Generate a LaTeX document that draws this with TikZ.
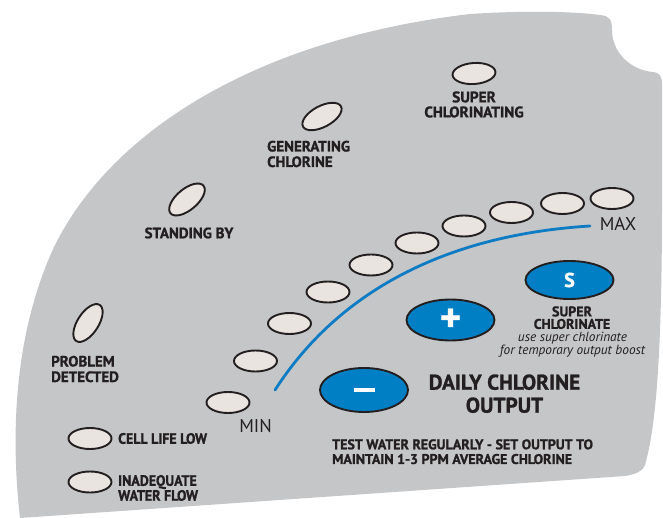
\documentclass[tikz,border=0pt]{standalone}
\usepackage{fontspec}
\setmainfont{PT Sans}[BoldFeatures={FakeBold=1.2}]
\newfontfamily\narrowfont{PT Sans}[FakeStretch=0.93, BoldFeatures={FakeBold=1.2}]
\usetikzlibrary{shapes.geometric, positioning}
\definecolor{panelc}{RGB}{197,198,200}
\definecolor{lampc}{RGB}{233,228,223}
\definecolor{inkc}{RGB}{35,31,32}
\definecolor{knobc}{RGB}{0,127,196}
\definecolor{arcc}{RGB}{14,124,196}
\tikzset{
  panel/.style={fill=panelc, draw=none},
  lamp/.style={
    ellipse, draw=inkc, line width=1.9pt, fill=lampc,
    minimum width=43pt, minimum height=21pt, inner sep=0pt
  },
  knob/.style={
    ellipse, draw=inkc, line width=1.9pt, fill=knobc,
    minimum width=88pt, minimum height=41pt, inner sep=0pt,
    text=white, font=\bfseries\fontsize{20}{20}\selectfont
  },
  statelbl/.style={font=\bfseries\fontsize{15}{15.5}\selectfont, text=inkc,
                   inner sep=0pt, align=left},
  narrowlbl/.style={font=\narrowfont\bfseries\fontsize{15}{13}\selectfont, text=inkc,
                    inner sep=0pt, align=left},
  endlbl/.style={font=\fontsize{18.5}{18.5}\selectfont, text=inkc, inner sep=0pt},
  hint/.style={font=\itshape\fontsize{13.3}{11.5}\selectfont, text=inkc,
               inner sep=0pt, align=center},
  dialarc/.style={draw=arcc, line width=2.8pt, line cap=round},
}

\begin{document}
\begin{tikzpicture}[x=1pt, y=-1pt]
  \useasboundingbox (0,0) rectangle (663,518);

  % the grey face plate
  \fill[panel] (20,518) .. controls (10,430) and (15,330) .. (55,245)
    .. controls (110,135) and (250,40) .. (470,14)
    .. controls (530,10) and (580,12) .. (600,15)
    .. controls (610,16) and (612,20) .. (612,30)
    .. controls (612,52) and (630,70) .. (653,72)
    .. controls (660,73) and (662,76) .. (662,85)
    -- (662,200) .. controls (662,330) and (658,420) .. (645,465)
    .. controls (642,472) and (636,474) .. (625,476)
    -- cycle;

  % status lamps
  \node[lamp, rotate=57] (problem) at (88,323) {};
  \node[lamp, rotate=40] (standby) at (187,199.5) {};
  \node[lamp, rotate=28] (generating) at (322,116.5) {};
  \node[lamp, rotate=4] (superon) at (474,73.5) {};
  \node[lamp] (celllife) at (90,438.5) {};
  \node[lamp] (waterflow) at (90,482) {};

  \node[statelbl, align=left, anchor=west] (problemlbl) at (51,369) {PROBLEM\\DETECTED};
  \node[statelbl] (standbylbl) at (189,233) {STANDING BY};
  \node[statelbl, anchor=west] (generatinglbl) at (267,154) {GENERATING\\CHLORINE};
  \node[statelbl, align=center, font=\bfseries\fontsize{15.3}{15}\selectfont] (superonlbl) at (474,104.5)
    {SUPER\\CHLORINATING};
  \node[narrowlbl, anchor=west] (celllifelbl) at (118,438.5) {CELL LIFE LOW};
  \node[narrowlbl, anchor=west] (waterflowlbl) at (118,488) {INADEQUATE\\WATER FLOW};

  % output level dial
  \node[lamp] (dial1) at (228,402.5) {};
  \node[lamp] (dial2) at (255.5,361) {};
  \node[lamp] (dial3) at (289.5,323.5) {};
  \node[lamp] (dial4) at (328,292) {};
  \node[lamp] (dial5) at (371,265) {};
  \node[lamp] (dial6) at (417,243) {};
  \node[lamp] (dial7) at (464,226) {};
  \node[lamp] (dial8) at (511.5,212.5) {};
  \node[lamp] (dial9) at (562.5,203.5) {};
  \node[lamp] (dial10) at (612,198.5) {};

  \coordinate (arcmin) at (275,390);
  \coordinate (arcmax) at (590,226);
  \draw[dialarc] (arcmin) .. controls (338,292) and (445,235) .. (arcmax);

  \node[endlbl] (minlbl) at (255.5,426) {MIN};
  \node[endlbl] (maxlbl) at (618,223.5) {MAX};

  % push buttons
  \node[knob, minimum height=38pt] (superbtn) at (569.5,280) {S};
  \node[knob, font=\bfseries\fontsize{40}{40}\selectfont] (plusbtn) at (450.5,320) {+};
  \node[knob, minimum height=44pt] (minusbtn) at (364,390) {\rule{21pt}{3.6pt}};

  \node[statelbl, align=center, font=\bfseries\fontsize{14}{12.5}\selectfont] (superbtnlbl)
    at (572,317.7) {SUPER\\CHLORINATE};
  \node[hint] (superhint) at (572.5,344.3)
    {use super chlorinate\\for temporary output boost};
  \node[statelbl, align=center, font=\bfseries\fontsize{21.3}{23}\selectfont] (dailylbl)
    at (504.5,393.7) {DAILY CHLORINE\\OUTPUT};
  \node[statelbl, anchor=west, font=\bfseries\fontsize{14}{14.7}\selectfont] (testlbl)
    at (332,451.7) {TEST WATER REGULARLY - SET OUTPUT TO\\MAINTAIN 1-3 PPM AVERAGE CHLORINE};

\end{tikzpicture}
\end{document}
